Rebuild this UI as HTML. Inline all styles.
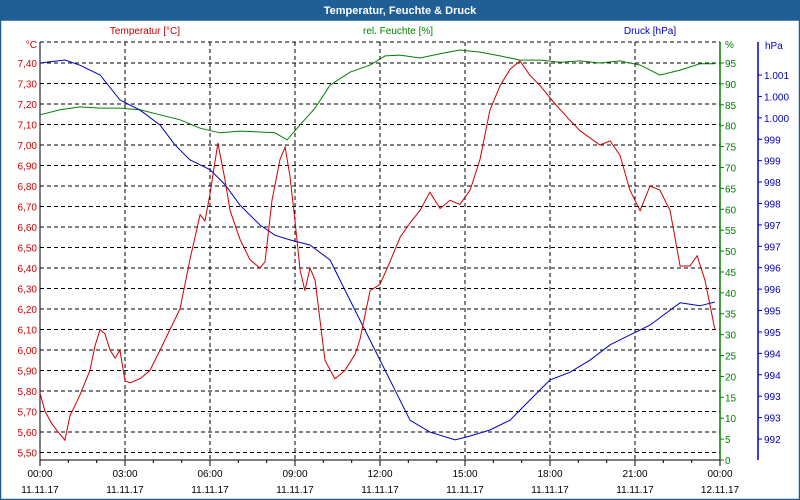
<!DOCTYPE html>
<html><head><meta charset="utf-8">
<style>
body{margin:0;background:#fff;font-family:"Liberation Sans",sans-serif;}
#wrap{position:relative;width:800px;height:500px;overflow:hidden;}
</style></head>
<body>
<div id="wrap">
<svg id="chart" width="800" height="500" xmlns="http://www.w3.org/2000/svg">
<rect x="0" y="0" width="800" height="500" fill="#fff"/>
<rect x="0" y="0" width="800" height="20" fill="#1f5f95"/>
<text x="400" y="14" text-anchor="middle" font-size="11" font-weight="bold" fill="#fff">Temperatur, Feuchte &amp; Druck</text>
<rect x="0.5" y="20" width="799" height="479.5" fill="none" stroke="#1f5f95" stroke-width="1.5"/>
<text x="145" y="34" text-anchor="middle" font-size="10" fill="#c00000">Temperatur [°C]</text>
<text x="398" y="34" text-anchor="middle" font-size="10" fill="#008000">rel. Feuchte [%]</text>
<text x="650" y="34" text-anchor="middle" font-size="10" fill="#0000c0">Druck [hPa]</text>
<text x="37" y="48" text-anchor="end" font-size="10" fill="#d00000">°C</text>
<text x="725" y="48" font-size="10" fill="#008000">%</text>
<text x="765" y="49" font-size="10" fill="#0000c0">hPa</text>
<g id="grid"></g><g id="axes"></g><g id="series"></g>
</svg>
</div>
<script>
const tempHours=[0,.18,.42,.64,.88,1.06,1.24,1.41,1.76,1.94,2.12,2.29,2.47,2.65,2.82,3.0,3.18,3.53,3.88,4.24,4.59,4.94,5.29,5.65,5.82,6.0,6.28,6.53,6.71,7.06,7.41,7.76,7.94,8.19,8.47,8.65,8.82,9.0,9.18,9.35,9.53,9.71,9.88,10.06,10.41,10.76,11.12,11.29,11.65,12.0,12.35,12.71,13.06,13.41,13.76,14.12,14.47,14.82,15.18,15.53,15.88,16.24,16.59,16.94,17.29,17.65,18.18,18.71,19.06,19.76,20.12,20.47,20.82,21.18,21.53,21.88,22.24,22.59,22.94,23.19,23.47,23.82];
const tempValues=[5.79,5.70,5.64,5.60,5.56,5.68,5.73,5.78,5.90,6.02,6.10,6.08,6.00,5.96,6.00,5.85,5.84,5.86,5.90,6.00,6.10,6.20,6.44,6.66,6.63,6.76,7.01,6.83,6.68,6.54,6.44,6.40,6.43,6.73,6.93,6.99,6.85,6.63,6.39,6.29,6.40,6.34,6.15,5.95,5.86,5.90,5.98,6.05,6.29,6.32,6.43,6.55,6.62,6.68,6.77,6.69,6.73,6.71,6.78,6.93,7.17,7.29,7.37,7.41,7.34,7.29,7.20,7.12,7.07,7.00,7.02,6.95,6.78,6.68,6.80,6.78,6.68,6.41,6.41,6.46,6.34,6.10];
const humHours=[0,0.71,1.41,2.12,2.82,3.53,4.24,4.94,5.65,6.35,7.06,7.76,8.29,8.72,9.18,9.71,10.24,10.94,11.65,12.18,12.71,13.41,14.12,14.82,15.53,16.24,16.94,17.65,18.35,19.06,19.76,20.47,21.18,21.88,22.59,23.29,23.82];
const humValues=[82.6,83.8,84.5,84.2,84.2,83.8,82.6,81.4,79.4,78.3,78.7,78.5,78.3,76.6,80.2,84.2,89.7,92.8,94.5,96.7,96.9,96.2,97.2,98.1,97.6,96.7,95.7,95.7,95.2,95.5,95.0,95.5,94.5,92.1,93.3,94.8,94.8];
const presHours=[0,0.88,1.41,2.12,2.82,3.53,4.24,4.76,5.29,6.0,6.53,7.06,7.76,8.29,8.82,9.53,10.24,10.76,11.29,11.82,12.35,13.06,13.76,14.65,15.18,15.88,16.59,17.29,18.0,18.71,19.41,20.12,20.82,21.53,22.24,22.59,23.29,23.82];
const presValues=[1001.03,1001.10,1000.98,1000.75,1000.17,999.93,999.58,999.12,998.77,998.54,998.19,997.71,997.25,997.01,996.90,996.78,996.43,995.73,995.03,994.33,993.63,992.69,992.41,992.23,992.32,992.46,992.69,993.16,993.63,993.81,994.09,994.45,994.68,994.91,995.26,995.43,995.36,995.45];
const tempTicks=[7.40,7.30,7.20,7.10,7.00,6.90,6.80,6.70,6.60,6.50,6.40,6.30,6.20,6.10,6.00,5.90,5.80,5.70,5.60,5.50];
const humTicks=[95,90,85,80,75,70,65,60,55,50,45,40,35,30,25,20,15,10,5,0];
const presTicks=[1000.75,1000.25,999.75,999.25,998.75,998.25,997.75,997.25,996.75,996.25,995.75,995.25,994.75,994.25,993.75,993.25,992.75,992.25];
const timeLabels=["00:00","03:00","06:00","09:00","12:00","15:00","18:00","21:00","00:00"];
const dateLabels=["11.11.17","11.11.17","11.11.17","11.11.17","11.11.17","11.11.17","11.11.17","11.11.17","12.11.17"];

const X0=40,X1=720,YTOP=42,YBOT=460;
const xS=h=>X0+h*(X1-X0)/24;
const tS=v=>63+(7.40-v)*205;
const hS=v=>63+(95-v)*(397/95);
const pS=v=>439-(v-992.25)*42.82;
const NS='http://www.w3.org/2000/svg';
function mk(tag,attrs,parent,txt){const e=document.createElementNS(NS,tag);for(const k in attrs)e.setAttribute(k,attrs[k]);if(txt!==undefined)e.textContent=txt;parent.appendChild(e);return e;}
const grid=document.getElementById('grid'),axes=document.getElementById('axes'),series=document.getElementById('series');

// horizontal grid
let g=mk('line',{x1:X0,x2:X1,y1:YTOP,y2:YTOP,stroke:'#000','stroke-dasharray':'4,3'},grid);


tempTicks.forEach((v,i)=>{
  const y=tS(v);
  const l=mk('line',{x1:X0,x2:X1,y1:y,y2:y,stroke:'#000','stroke-dasharray':'4,3'},grid);
  
  
  const t=mk('text',{x:37,y:y+4,'text-anchor':'end','font-size':10,fill:'#d00000'},axes,v.toFixed(2).replace('.',','));
  
  
});
// vertical grid
for(let i=1;i<8;i++){
  const x=xS(i*3);
  const l=mk('line',{x1:x,x2:x,y1:YTOP,y2:YBOT,stroke:'#000','stroke-dasharray':'4,3'},grid);
  
  
}
// axes lines
let a=mk('line',{x1:X0,x2:X0,y1:YTOP,y2:YBOT,stroke:'#000'},axes);


a=mk('line',{x1:X0,x2:X1,y1:YBOT,y2:YBOT,stroke:'#000'},axes);


a=mk('line',{x1:X1,x2:X1,y1:YTOP,y2:YBOT,stroke:'#008000','stroke-width':1.5},axes);


a=mk('line',{x1:758,x2:758,y1:YTOP,y2:YBOT,stroke:'#0000c0','stroke-width':1.5},axes);


humTicks.forEach(v=>{
  const y=hS(v);
  const k=mk('line',{x1:X1,x2:X1+4,y1:y,y2:y,stroke:'#008000'},axes);
  
  
  const t=mk('text',{x:725,y:y+4,'font-size':10,fill:'#008000'},axes,String(v));
  
  
});
presTicks.forEach(v=>{
  const y=pS(v);
  const k=mk('line',{x1:758,x2:762,y1:y,y2:y,stroke:'#0000c0'},axes);
  
  
  const r=Math.round(v);
  const lab=r>=1000?('1.'+String(r).slice(1)):String(r);
  const t=mk('text',{x:764,y:y+4,'font-size':10,fill:'#0000c0'},axes,lab);
  
  
});
for(let h=0;h<=24;h++){
  const x=xS(h);const major=h%3===0;
  const k=mk('line',{x1:x,x2:x,y1:YBOT,y2:YBOT+(major?6:3),stroke:'#000'},axes);
  
  
}
timeLabels.forEach((s,i)=>{
  const x=xS(i*3);
  const t=mk('text',{x:x,y:477,'text-anchor':'middle','font-size':10,fill:'#000'},axes,s);
  
  
  const d=mk('text',{x:x,y:493,'text-anchor':'middle','font-size':10,fill:'#000'},axes,dateLabels[i]);
  
  
});
function line(hs,vs,sc,col,name){
  const pts=hs.map((h,i)=>xS(h).toFixed(1)+','+sc(vs[i]).toFixed(1)).join(' ');
  const p=mk('polyline',{points:pts,fill:'none',stroke:col,'stroke-width':1},series);
  
  
}
line(humHours,humValues,hS,'#008000','humidity-line');
line(presHours,presValues,pS,'#0000c0','pressure-line');
line(tempHours,tempValues,tS,'#d00000','temperature-line');
</script>
</body></html>
